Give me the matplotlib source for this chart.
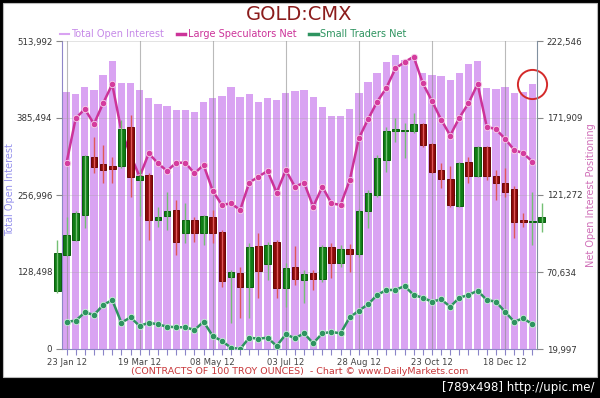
import matplotlib
matplotlib.use('Agg')
import matplotlib.pyplot as plt
from matplotlib.lines import Line2D
from matplotlib.patches import Rectangle
from matplotlib.ticker import FixedLocator, MultipleLocator
import numpy as np

plt.rcParams['font.family'] = ['DejaVu Sans']

# weekly COT data, gold (CMX), 2012
date_labels = ['23 Jan 12', '19 Mar 12', '08 May 12', '03 Jul 12', '28 Aug 12', '23 Oct 12', '18 Dec 12']

total_oi = [428400, 425500, 436700, 432200, 457200, 480100, 444400, 443400, 432200, 418400,
            408800, 405000, 399300, 399300, 396000, 412700, 418900, 423000, 436700, 421000,
            425000, 413000, 419700, 414700, 426400, 430500, 432200, 421000, 404300, 388800,
            388800, 400000, 427700, 445100, 461400, 479400, 490600, 482300, 488100, 460100,
            457200, 455600, 448900, 461100, 475600, 480600, 435100, 434400, 436700, 427700,
            428900, 442200]

large_spec = [142500, 171700, 177800, 168000, 181600, 194100, 163400, 147600, 133300, 148700,
              142100, 137100, 142500, 142500, 135500, 141000, 124100, 114700, 115800, 111400,
              129400, 133300, 137100, 122800, 137700, 126700, 129400, 113600, 126700, 115800,
              114700, 131100, 158600, 171000, 182600, 191600, 204500, 208700, 212200, 194700,
              183100, 170900, 160400, 172100, 181600, 194300, 166200, 164500, 158300, 150900,
              148700, 143200]

small_traders = [37950, 38600, 44100, 42400, 48900, 52200, 37300, 40800, 35100, 37300,
                 36200, 34700, 34300, 34300, 32500, 37950, 28550, 25260, 20850, 19997,
                 27430, 26770, 27430, 21970, 29660, 27030, 30320, 23750, 30320, 31180,
                 30320, 40850, 45180, 49390, 55510, 58800, 58800, 61430, 55510, 53730,
                 51100, 52680, 47810, 53730, 55510, 58340, 52220, 51100, 44530, 37950,
                 40190, 36240]

# gold price candles (one week before the first bar to one after the last)
c_open = [1561, 1609, 1628, 1661, 1737, 1728, 1726, 1725, 1777, 1707,
          1714, 1655, 1660, 1668, 1638, 1655, 1638, 1659, 1639, 1580,
          1585, 1566, 1620, 1597, 1626, 1565, 1593, 1576, 1585, 1577,
          1619, 1598, 1617, 1610, 1667, 1688, 1734, 1772, 1772, 1771,
          1781, 1755, 1721, 1709, 1673, 1731, 1713, 1751, 1713, 1703,
          1695, 1654, 1652, 1652]
c_high = [1628, 1659, 1666, 1740, 1764, 1753, 1737, 1786, 1793, 1720,
          1716, 1672, 1691, 1681, 1677, 1659, 1661, 1668, 1642, 1589,
          1593, 1624, 1638, 1626, 1628, 1598, 1620, 1589, 1589, 1622,
          1624, 1622, 1623, 1669, 1694, 1740, 1777, 1789, 1782, 1795,
          1782, 1756, 1730, 1726, 1731, 1737, 1752, 1752, 1720, 1723,
          1699, 1664, 1692, 1677]
c_low = [1559, 1607, 1627, 1644, 1716, 1703, 1703, 1723, 1685, 1660,
         1628, 1645, 1642, 1609, 1624, 1626, 1622, 1624, 1567, 1519,
         1526, 1526, 1552, 1576, 1552, 1540, 1569, 1546, 1563, 1573,
         1578, 1593, 1586, 1606, 1644, 1685, 1718, 1757, 1736, 1769,
         1751, 1716, 1697, 1672, 1672, 1703, 1711, 1707, 1681, 1685,
         1631, 1645, 1622, 1639]
c_close = [1611, 1635, 1664, 1739, 1724, 1720, 1722, 1774, 1711, 1713,
           1655, 1659, 1666, 1626, 1655, 1638, 1660, 1638, 1574, 1586,
           1566, 1619, 1587, 1622, 1565, 1591, 1577, 1584, 1577, 1619,
           1598, 1616, 1610, 1667, 1690, 1736, 1771, 1774, 1773, 1781,
           1753, 1718, 1709, 1674, 1730, 1713, 1750, 1713, 1703, 1692,
           1652, 1652, 1653, 1659]

left_ticks = [0, 128498, 256996, 385494, 513992]
right_ticks = [19997, 70634, 121272, 171909, 222546]

fig = plt.figure(figsize=(6, 3.98), dpi=100, facecolor='black')
fig.patches.append(Rectangle((0.005, 0.053), 0.99, 0.94, transform=fig.transFigure,
                             facecolor='white', edgecolor='#bbbbbb', lw=0.8, zorder=-10))

ax = fig.add_axes([62 / 600, 49 / 398, 475 / 600, 308 / 398])
x = np.arange(len(total_oi))

# open interest bars
ax.bar(x, total_oi, width=0.8, color='#d9a3f2', zorder=1)
ax.set_xlim(-0.5, len(total_oi) - 0.5)
ax.set_ylim(0, left_ticks[-1])
ax.set_yticks(left_ticks)
ax.set_yticklabels(['{:,}'.format(v) for v in left_ticks])
ax.xaxis.set_major_locator(FixedLocator(range(0, len(total_oi), 8)))
ax.xaxis.set_minor_locator(MultipleLocator(1))
ax.set_xticklabels(date_labels)
ax.set_axisbelow(False)
ax.grid(axis='y', color='#a0a0a0', alpha=0.35, lw=0.6)
ax.grid(axis='x', which='major', color='#8c8c8c', alpha=0.6, lw=0.8)
ax.tick_params(axis='y', direction='out', length=4, width=0.8, color='#888888',
               labelsize=6.2, labelcolor='#333333', pad=3)
ax.tick_params(axis='x', which='both', direction='out', length=4, width=0.8, color='#8a84c8',
               labelsize=6.1, labelcolor='#444444', pad=2.5)
for s in ['top', 'right']:
    ax.spines[s].set_visible(False)
ax.spines['left'].set_color('#8f86c8')
ax.spines['bottom'].set_color('#8f86c8')
ax.set_ylabel('Total Open Interest', color='#9490ec', fontsize=7)
ax.yaxis.set_label_coords(-47 / 475, 0.519)

# red circle on the latest week
ax.plot([x[-1]], [total_oi[-1]], marker='o', ms=21, mfc='none', mec='#d42a2a', mew=1.4,
        clip_on=False, zorder=6)

# net positioning lines
ax2 = ax.twinx()
ax2.plot(x, large_spec, color='#cc3399', lw=1.8, marker='o', ms=4.6, mfc='#d43c9e',
         mec='#f6d3ec', mew=0.6)
ax2.plot(x, small_traders, color='#2e9460', lw=1.8, marker='o', ms=4.6, mfc='#2e9460',
         mec='#cdeedb', mew=0.6)
ax2.set_ylim(right_ticks[0], right_ticks[-1])
ax2.set_yticks(right_ticks)
ax2.set_yticklabels(['{:,}'.format(v) for v in right_ticks])
ax2.tick_params(axis='y', direction='out', length=4, width=0.8, color='#888888',
                labelsize=6.2, labelcolor='#333333', pad=3)
for s in ['top', 'left', 'bottom']:
    ax2.spines[s].set_visible(False)
ax2.spines['right'].set_color('#8090a0')
ax2.set_ylabel('Net Open Interest Positioning', color='#d070b8', fontsize=7)
ax2.yaxis.set_label_coords(524 / 475, 0.5)

# price candles (hidden scale)
ax3 = ax.twinx()
ax3.set_ylim(1485, 1890)
ax3.set_axis_off()
cx = np.arange(len(c_open)) - 1
o = np.array(c_open)
c = np.array(c_close)
up = c >= o
wick_cols = ['#74c074' if u else '#e05858' for u in up]
body_cols = ['#0f7d14' if u else '#8b0a0a' for u in up]
edge_cols = ['#0a5c0e' if u else '#6a0505' for u in up]
wicks = ax3.vlines(cx, c_low, c_high, colors=wick_cols, lw=1.0)
wicks.set_clip_on(False)
ax3.bar(cx, np.abs(c - o), bottom=np.minimum(o, c), width=0.72, color=body_cols,
        edgecolor=edge_cols, lw=0.7, clip_on=False)

# title, legend, footer
fig.text(0.498, 1 - 14.5 / 398, 'GOLD:CMX', ha='center', va='center', fontsize=14, color='#8b1c1c')

handles = [Line2D([], [], color='#d9a3f2', lw=1.5),
           Line2D([], [], color='#cc3399', lw=2.5),
           Line2D([], [], color='#2e9460', lw=2.5)]
labels = ['Total Open Interest', 'Large Speculators Net', 'Small Traders Net']
leg = fig.legend(handles, labels, loc='center left', bbox_to_anchor=(60 / 600, 1 - 34 / 398),
                 ncol=3, frameon=False, fontsize=7, handlelength=0.9, handletextpad=0.25,
                 columnspacing=1.3, borderaxespad=0, borderpad=0)
for t, col in zip(leg.get_texts(), ['#c68ae8', '#cc3399', '#2e9460']):
    t.set_color(col)

fig.text(0.4992, 1 - 371 / 398, '(CONTRACTS OF 100 TROY OUNCES)  - Chart \u00a9 www.DailyMarkets.com',
         color='#c8373a', fontsize=6.8, ha='center', va='center')
fig.text(595 / 600, 1 - 387 / 398, '[789x498] http://upic.me/', color='white', ha='right',
         va='center', fontsize=8.5)

fig.savefig('out.png', dpi=100, facecolor='black')
